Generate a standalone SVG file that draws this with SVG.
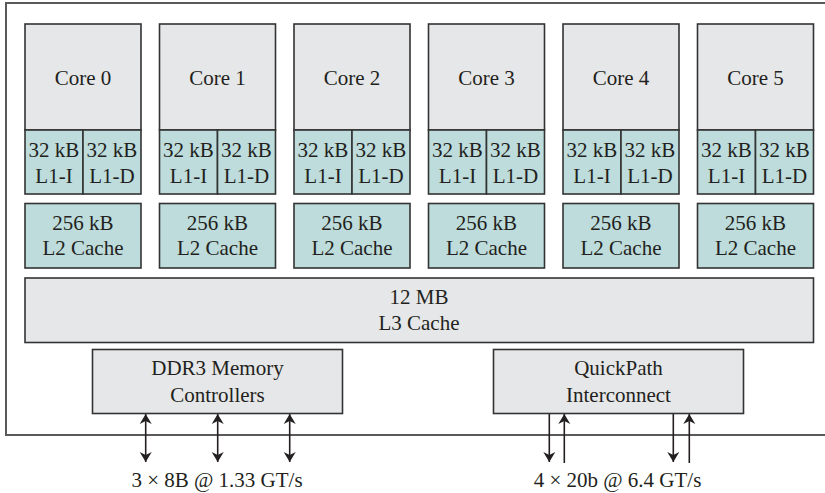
<svg xmlns="http://www.w3.org/2000/svg" width="825" height="493" viewBox="0 0 825 493">
<defs>
<style>
text{font-size:21px;fill:#231f20;text-anchor:middle}
.core{fill:#e6e7e8;stroke:#333;stroke-width:1.6}
.c{fill:#bddcdb;stroke:#333;stroke-width:1.6}
.frame{fill:none;stroke:#5a5a5a;stroke-width:2}
.ln{stroke:#231f20;stroke-width:1.6;fill:none}
</style>
<marker id="ah" viewBox="0 0 10 16" refX="10" refY="8" markerWidth="10" markerHeight="16" markerUnits="userSpaceOnUse" orient="auto-start-reverse">
<path d="M0,2 L10,8 L0,14 L3,8 Z" fill="#231f20"/>
</marker>
</defs>
<rect x="0" y="0" width="825" height="493" fill="#fff"/>
<rect class="frame" x="6" y="3" width="830" height="432"/>
<g font-family="Liberation Serif">
<g id="core0"><rect class="core" x="25" y="24" width="116" height="106"/><text x="83" y="85">Core 0</text>
<rect class="c" x="25" y="130" width="58" height="64"/><rect class="c" x="83" y="130" width="58" height="64"/>
<text x="54" y="157">32 kB</text><text x="54" y="183">L1-I</text><text x="112" y="157">32 kB</text><text x="112" y="183">L1-D</text></g>
<g id="core1"><rect class="core" x="159.5" y="24" width="116" height="106"/><text x="217.5" y="85">Core 1</text>
<rect class="c" x="159.5" y="130" width="58" height="64"/><rect class="c" x="217.5" y="130" width="58" height="64"/>
<text x="188.5" y="157">32 kB</text><text x="188.5" y="183">L1-I</text><text x="246.5" y="157">32 kB</text><text x="246.5" y="183">L1-D</text></g>
<g id="core2"><rect class="core" x="294" y="24" width="116" height="106"/><text x="352" y="85">Core 2</text>
<rect class="c" x="294" y="130" width="58" height="64"/><rect class="c" x="352" y="130" width="58" height="64"/>
<text x="323" y="157">32 kB</text><text x="323" y="183">L1-I</text><text x="381" y="157">32 kB</text><text x="381" y="183">L1-D</text></g>
<g id="core3"><rect class="core" x="428.5" y="24" width="116" height="106"/><text x="486.5" y="85">Core 3</text>
<rect class="c" x="428.5" y="130" width="58" height="64"/><rect class="c" x="486.5" y="130" width="58" height="64"/>
<text x="457.5" y="157">32 kB</text><text x="457.5" y="183">L1-I</text><text x="515.5" y="157">32 kB</text><text x="515.5" y="183">L1-D</text></g>
<g id="core4"><rect class="core" x="563" y="24" width="116" height="106"/><text x="621" y="85">Core 4</text>
<rect class="c" x="563" y="130" width="58" height="64"/><rect class="c" x="621" y="130" width="58" height="64"/>
<text x="592" y="157">32 kB</text><text x="592" y="183">L1-I</text><text x="650" y="157">32 kB</text><text x="650" y="183">L1-D</text></g>
<g id="core5"><rect class="core" x="697.5" y="24" width="116" height="106"/><text x="755.5" y="85">Core 5</text>
<rect class="c" x="697.5" y="130" width="58" height="64"/><rect class="c" x="755.5" y="130" width="58" height="64"/>
<text x="726.5" y="157">32 kB</text><text x="726.5" y="183">L1-I</text><text x="784.5" y="157">32 kB</text><text x="784.5" y="183">L1-D</text></g>

<g id="l2_0"><rect class="c" x="25" y="203.5" width="116" height="64.5"/><text x="83" y="230">256 kB</text><text x="83" y="255">L2 Cache</text></g>
<g id="l2_1"><rect class="c" x="159.5" y="203.5" width="116" height="64.5"/><text x="217.5" y="230">256 kB</text><text x="217.5" y="255">L2 Cache</text></g>
<g id="l2_2"><rect class="c" x="294" y="203.5" width="116" height="64.5"/><text x="352" y="230">256 kB</text><text x="352" y="255">L2 Cache</text></g>
<g id="l2_3"><rect class="c" x="428.5" y="203.5" width="116" height="64.5"/><text x="486.5" y="230">256 kB</text><text x="486.5" y="255">L2 Cache</text></g>
<g id="l2_4"><rect class="c" x="563" y="203.5" width="116" height="64.5"/><text x="621" y="230">256 kB</text><text x="621" y="255">L2 Cache</text></g>
<g id="l2_5"><rect class="c" x="697.5" y="203.5" width="116" height="64.5"/><text x="755.5" y="230">256 kB</text><text x="755.5" y="255">L2 Cache</text></g>

<g id="l3"><rect class="core" x="25" y="278" width="788.5" height="64.5"/><text x="419" y="304">12 MB</text><text x="419" y="329.5">L3 Cache</text></g>

<g id="ddr3"><rect class="core" x="92.5" y="349.5" width="250" height="64"/><text x="217.5" y="375">DDR3 Memory</text><text x="217.5" y="401.5">Controllers</text></g>
<g id="qpi"><rect class="core" x="493.5" y="349.5" width="250" height="64"/><text x="618.5" y="375">QuickPath</text><text x="618.5" y="401.5">Interconnect</text></g>
</g>
<g id="connectors">
<line class="ln" x1="145.7" y1="414" x2="145.7" y2="462" marker-start="url(#ah)" marker-end="url(#ah)"/>
<line class="ln" x1="217.7" y1="414" x2="217.7" y2="462" marker-start="url(#ah)" marker-end="url(#ah)"/>
<line class="ln" x1="289.7" y1="414" x2="289.7" y2="462" marker-start="url(#ah)" marker-end="url(#ah)"/>
<line class="ln" x1="549.3" y1="414" x2="549.3" y2="462" marker-end="url(#ah)"/>
<line class="ln" x1="564.3" y1="463" x2="564.3" y2="414" marker-end="url(#ah)"/>
<line class="ln" x1="673.3" y1="414" x2="673.3" y2="462" marker-end="url(#ah)"/>
<line class="ln" x1="689.3" y1="463" x2="689.3" y2="414" marker-end="url(#ah)"/>
</g>
<g font-family="Liberation Serif">
<text x="217" y="487">3 × 8B @ 1.33 GT/s</text>
<text x="617.5" y="487">4 × 20b @ 6.4 GT/s</text>
</g>
</svg>
